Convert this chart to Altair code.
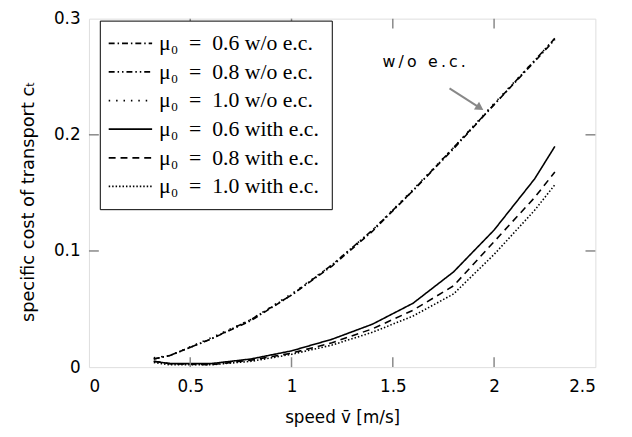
import altair as alt
import pandas as pd

speed = [0.32, 0.4, 0.6, 0.8, 1.0, 1.2, 1.4, 1.6, 1.8, 2.0, 2.2, 2.3]

wo_06 = [0.007, 0.010, 0.024, 0.040, 0.062, 0.087, 0.117, 0.152, 0.188, 0.226, 0.263, 0.282]
wo_08 = [0.007, 0.010, 0.024, 0.041, 0.062, 0.088, 0.118, 0.152, 0.189, 0.226, 0.264, 0.283]
wo_10 = [0.008, 0.010, 0.025, 0.041, 0.063, 0.088, 0.118, 0.153, 0.189, 0.227, 0.264, 0.283]
ec_06 = [0.005, 0.003, 0.003, 0.007, 0.014, 0.024, 0.037, 0.055, 0.082, 0.118, 0.162, 0.190]
ec_08 = [0.005, 0.003, 0.002, 0.006, 0.012, 0.021, 0.033, 0.049, 0.070, 0.108, 0.146, 0.168]
ec_10 = [0.004, 0.002, 0.002, 0.005, 0.011, 0.019, 0.030, 0.044, 0.063, 0.097, 0.135, 0.157]

series_names = [
    "μ₀\u2002=\u20020.6 w/o e.c.",
    "μ₀\u2002=\u20020.8 w/o e.c.",
    "μ₀\u2002=\u20021.0 w/o e.c.",
    "μ₀\u2002=\u20020.6 with e.c.",
    "μ₀\u2002=\u20020.8 with e.c.",
    "μ₀\u2002=\u20021.0 with e.c.",
]
series_values = [wo_06, wo_08, wo_10, ec_06, ec_08, ec_10]
dashes = [[6, 3, 1.5, 3], [6, 3, 1.5, 3, 1.5, 3], [1.5, 6], [1, 0], [7, 5], [1.5, 2]]

x_ticks = [0.5, 1.0, 1.5, 2.0]
y_ticks = [0.1, 0.2]

ann_text = ["w\u2009/\u2009o\u2009 \u2009e\u2009.\u2009c\u2009."]
ann_text_x = [1.655]
ann_text_y = [0.263]
arrow_x = [1.78]
arrow_y = [0.240]
arrow_x2 = [1.93]
arrow_y2 = [0.2232]

rows = []
for name, vals in zip(series_names, series_values):
    for s, v in zip(speed, vals):
        rows.append({"speed": s, "cost": v, "series": name})
df = pd.DataFrame(rows)

W, H = 513, 353
xscale = alt.Scale(domain=[0, 2.5], nice=False, zero=False)
yscale = alt.Scale(domain=[0, 0.3], nice=False)

lines = alt.Chart(df).mark_line(color="black", strokeWidth=1.6).encode(
    x=alt.X("speed:Q", scale=xscale,
            axis=alt.Axis(title="speed v̄ [m/s]", values=[0, 0.5, 1, 1.5, 2, 2.5], format="~g",
                          ticks=False, domain=False, grid=False, labelFontSize=17,
                          labelFont="DejaVu Sans", titleFont="DejaVu Sans", titleFontSize=17,
                          titleFontWeight="normal", labelPadding=12, titlePadding=15,
                          labelColor="black", titleColor="black")),
    y=alt.Y("cost:Q", scale=yscale,
            axis=alt.Axis(title="specific cost of transport cₜ", values=[0, 0.1, 0.2, 0.3], format="~g",
                          ticks=False, domain=False, grid=False, labelFontSize=17,
                          labelFont="DejaVu Sans", titleFont="DejaVu Sans", titleFontSize=18,
                          titleFontWeight="normal", labelPadding=9, titlePadding=16,
                          titleY=185,
                          labelColor="black", titleColor="black")),
    strokeDash=alt.StrokeDash(
        "series:N",
        scale=alt.Scale(domain=series_names, range=dashes),
        sort=series_names,
        legend=alt.Legend(
            orient="none", legendX=11, legendY=2, title=None,
            symbolType="M-3,0H3", symbolSize=215, symbolStrokeWidth=1.8,
            symbolStrokeColor="black", symbolFillColor="transparent",
            labelFont="Liberation Serif", labelFontSize=22, labelColor="black",
            strokeColor="black", fillColor="white", padding=12, rowPadding=7,
            labelOffset=18, symbolOffset=8, labelLimit=400,
        ),
    ),
    detail="series:N",
)

xt = pd.DataFrame({"v": x_ticks})
yt = pd.DataFrame({"v": y_ticks})
tick_color = "#888888"
bottom = alt.Chart(xt).mark_rule(color=tick_color, strokeWidth=1.5).encode(
    x=alt.X("v:Q", scale=xscale), y=alt.value(H), y2=alt.value(H - 10))
top = alt.Chart(xt).mark_rule(color=tick_color, strokeWidth=1.5).encode(
    x=alt.X("v:Q", scale=xscale), y=alt.value(0), y2=alt.value(10))
left = alt.Chart(yt).mark_rule(color=tick_color, strokeWidth=1.5).encode(
    y=alt.Y("v:Q", scale=yscale), x=alt.value(0), x2=alt.value(10))
right = alt.Chart(yt).mark_rule(color=tick_color, strokeWidth=1.5).encode(
    y=alt.Y("v:Q", scale=yscale), x=alt.value(W), x2=alt.value(W - 10))

ann_df = pd.DataFrame({"t": ann_text, "x": ann_text_x, "y": ann_text_y})
text = alt.Chart(ann_df).mark_text(font="DejaVu Sans", fontSize=16, color="black").encode(
    x=alt.X("x:Q", scale=xscale), y=alt.Y("y:Q", scale=yscale), text="t:N")

arr_df = pd.DataFrame({"x": arrow_x, "y": arrow_y, "x2": arrow_x2, "y2": arrow_y2})
arrow = alt.Chart(arr_df).mark_rule(color=tick_color, strokeWidth=2).encode(
    x=alt.X("x:Q", scale=xscale), y=alt.Y("y:Q", scale=yscale), x2="x2:Q", y2="y2:Q")
head = alt.Chart(arr_df).mark_point(shape="triangle-up", filled=True, color=tick_color,
                                    size=90, angle=123, opacity=1).encode(
    x=alt.X("x2:Q", scale=xscale), y=alt.Y("y2:Q", scale=yscale))

chart = alt.layer(lines, bottom, top, left, right, text, arrow, head).properties(
    width=W, height=H,
    autosize=alt.AutoSizeParams(type="none"),
    padding={"left": 82, "top": 8, "right": 29, "bottom": 68},
).configure_view(stroke="black", strokeWidth=1.6).configure(background="white")

chart.save("out.html", embed_options={"renderer": "svg", "actions": False})
